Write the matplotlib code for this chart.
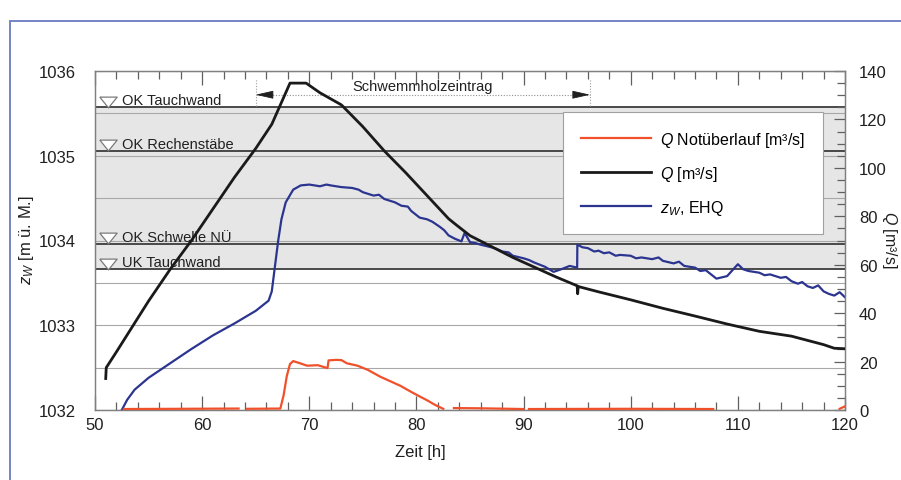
import matplotlib
matplotlib.use("Agg")
import numpy as np
import matplotlib.pyplot as plt
from matplotlib.ticker import MultipleLocator
from matplotlib.transforms import offset_copy
from matplotlib.lines import Line2D
from matplotlib.patches import Rectangle

plt.rcParams['font.family'] = ['Liberation Sans', 'DejaVu Sans']
plt.rcParams['mathtext.fontset'] = 'custom'
plt.rcParams['mathtext.rm'] = 'Liberation Sans'
plt.rcParams['mathtext.it'] = 'Liberation Sans:italic'

# Abfluss Q [m3/s] (rechte Achse)
zeit_q = [51.0, 51.05, 52, 53, 55, 57, 59, 61, 63, 65, 66.5, 67.5, 68.2, 69.7,
          71, 73, 75, 77, 79, 81, 83, 83.7, 85, 87, 89, 91, 93, 95, 95.05, 95.1,
          97, 100, 103, 106, 109, 112, 115, 118, 119, 120]
q_werte = [13, 17.5, 24, 31, 45, 58, 70, 83, 96, 108, 118, 128, 135, 135,
           131, 126, 117, 107, 98, 88.5, 79, 76.5, 72, 67.5, 63, 59, 55, 51.3, 48, 51,
           48.8, 45.5, 42, 38.8, 35.5, 32.5, 30.5, 27, 25.5, 25.3]

# Wasserspiegel z_W [m ü. M.] (linke Achse)
zeit_zw = [52.5, 53.0, 53.7, 55, 57, 59, 61, 63, 65, 66.2, 66.5, 66.8, 67.1, 67.4,
           67.8, 68.5, 69.2, 70, 71, 71.6, 72, 73, 74, 74.6, 75, 76, 76.5, 77, 78,
           78.6, 79.2, 79.5, 80.3, 81, 81.5, 82.2, 82.6, 83, 83.6, 84.2, 84.5, 85,
           85.5, 86, 87, 87.5, 88, 88.6, 89, 90, 90.5, 91, 92, 92.8, 93.5, 94.3,
           95.0, 95.02, 95.5, 96, 96.6, 97, 97.5, 98, 98.6, 99, 100, 100.5, 101,
           102, 102.6, 103, 104, 104.5, 105, 106, 106.5, 107, 108, 109, 110, 110.5,
           111, 112, 112.5, 113, 114, 114.5, 115, 115.6, 116, 116.5, 117, 117.5,
           118, 118.5, 119, 119.5, 120]
zw_werte = [1032.0, 1032.12, 1032.24, 1032.38, 1032.55, 1032.72, 1032.88, 1033.02,
            1033.17, 1033.29, 1033.4, 1033.7, 1034.0, 1034.25, 1034.45, 1034.6,
            1034.65, 1034.66, 1034.64, 1034.66, 1034.65, 1034.63, 1034.62, 1034.60,
            1034.57, 1034.53, 1034.54, 1034.49, 1034.45, 1034.41, 1034.40, 1034.35,
            1034.27, 1034.25, 1034.22, 1034.16, 1034.12, 1034.06, 1034.02, 1033.99,
            1034.09, 1033.98, 1033.97, 1033.95, 1033.92, 1033.90, 1033.87, 1033.86,
            1033.82, 1033.79, 1033.77, 1033.74, 1033.69, 1033.63, 1033.66, 1033.70,
            1033.68, 1033.95, 1033.92, 1033.91, 1033.87, 1033.88, 1033.85, 1033.86,
            1033.82, 1033.83, 1033.82, 1033.79, 1033.80, 1033.78, 1033.80, 1033.76,
            1033.73, 1033.75, 1033.70, 1033.68, 1033.64, 1033.65, 1033.55, 1033.58,
            1033.72, 1033.66, 1033.64, 1033.62, 1033.59, 1033.60, 1033.56, 1033.57,
            1033.52, 1033.49, 1033.51, 1033.46, 1033.44, 1033.47, 1033.40, 1033.37,
            1033.35, 1033.39, 1033.33]

# Q Notüberlauf [m3/s] (rechte Achse), Lücken = keine Messung
zeit_nue = [52.7, 58, 63.4, np.nan, 64.2, 67.3, 67.6, 67.9, 68.2, 68.5, 69, 69.8,
            70.8, 71.7, 71.8, 72.5, 73, 73.5, 74.5, 75.5, 76.6, 77.5, 78.5, 79.5,
            80.3, 81, 81.7, 82.5, np.nan, 83.5, 86, 90, np.nan, 90.5, 100, 107.7,
            np.nan, 119.5, 120]
q_nue = [0.4, 0.5, 0.6, np.nan, 0.5, 0.6, 6, 14, 19, 20.2, 19.5, 18.3,
         18.5, 17.3, 20.5, 20.7, 20.6, 19.3, 18.3, 16.5, 13.8, 12, 10, 7.5,
         5.6, 4, 2.2, 0.5, np.nan, 0.8, 0.7, 0.4, np.nan, 0.4, 0.5, 0.4,
         np.nan, 0.5, 1.5]

# Bauwerkskoten
koten_namen = ["OK Tauchwand", "OK Rechenstäbe", "OK Schwelle NÜ", "UK Tauchwand"]
koten_werte = [1035.575, 1035.06, 1033.96, 1033.66]

# Zeitraum Schwemmholzeintrag [h]
schwemmholz_von = 65.0
schwemmholz_bis = 96.2

fig = plt.figure(figsize=(9.01, 4.81), dpi=100)
ax = fig.add_axes([95 / 901, 70 / 481, 750 / 901, 339 / 481])
ax2 = ax.twinx()

# blauer Rahmen um die Abbildung
fig.patches.append(Rectangle((10 / 901, -0.05), 1.0, (481 - 22) / 481 + 0.05,
                             transform=fig.transFigure, fill=False,
                             edgecolor='#6a7cc0', lw=1.3))

ax.set_xlim(50, 120)
ax.set_ylim(1032, 1036)
ax2.set_ylim(0, 140)

# grauer Bereich zwischen UK und OK Tauchwand
ax.axhspan(koten_werte[3], koten_werte[0], color='#e6e6e6', zorder=0, lw=0)

ax.set_yticks([1032, 1033, 1034, 1035, 1036])
ax.yaxis.set_minor_locator(MultipleLocator(0.5))
ax.grid(axis='y', which='both', color='#a8a8a8', lw=0.8, zorder=1)
ax.set_axisbelow(True)

ax.xaxis.set_major_locator(MultipleLocator(10))
ax.xaxis.set_minor_locator(MultipleLocator(2))
ax.tick_params(axis='x', which='both', direction='in', top=True, colors='#606060',
               labelcolor='#202020', labelsize=12, pad=5)
ax.tick_params(axis='x', which='major', length=10, width=0.9)
ax.tick_params(axis='x', which='minor', length=6, width=0.9)
ax.tick_params(axis='y', which='both', length=0, labelsize=12, pad=14,
               labelcolor='#202020')

ax2.yaxis.set_major_locator(MultipleLocator(20))
ax2.yaxis.set_minor_locator(MultipleLocator(5))
ax2.tick_params(axis='y', which='both', direction='in', colors='#606060',
                labelcolor='#202020', labelsize=12, pad=10)
ax2.tick_params(axis='y', which='major', length=8, width=0.9)
ax2.tick_params(axis='y', which='minor', length=6, width=0.9)

for s in list(ax.spines.values()) + list(ax2.spines.values()):
    s.set_color('#808080')
    s.set_linewidth(0.9)

# Koten mit Dreieck und Beschriftung
dreieck = [(-1.0, 0.62), (1.0, 0.62), (0.0, -0.62), (-1.0, 0.62)]
tri_trans = offset_copy(ax.transData, fig=fig, x=0, y=5.5, units='dots')
txt_trans = offset_copy(ax.transData, fig=fig, x=0, y=3, units='dots')
for name, kote in zip(koten_namen, koten_werte):
    ax.axhline(kote, color='#3c3c3c', lw=1.3, zorder=2)
    ax.plot([51.17], [kote], marker=dreieck, markersize=12.5, mfc='white',
            mec='#7a7a7a', mew=0.9, transform=tri_trans, zorder=3)
    ax.text(52.5, kote, name, fontsize=10.5, color='#202020', va='baseline',
            ha='left', transform=txt_trans, zorder=3)

# Messdaten
ax.plot(zeit_zw, zw_werte, color='#2b3590', lw=1.6, zorder=4)
ax2.plot(zeit_q, q_werte, color='#1a1a1a', lw=2.0, zorder=5)
ax2.plot(zeit_nue, q_nue, color='#f0502a', lw=1.6, zorder=5)

# Schwemmholzeintrag Markierung
y_pfeil = 1035.72
ax.plot([schwemmholz_von, schwemmholz_bis], [y_pfeil, y_pfeil], color='#909090',
        lw=0.8, ls=(0, (1, 1.5)), zorder=3)
for xv in (schwemmholz_von, schwemmholz_bis):
    ax.plot([xv, xv], [1035.59, 1035.91], color='#a0a0a0', lw=0.8,
            ls=(0, (1, 1.5)), zorder=3)
ax.annotate('', xy=(schwemmholz_von, y_pfeil), xytext=(schwemmholz_von + 1.6, y_pfeil),
            arrowprops=dict(arrowstyle='-|>,head_length=1.1,head_width=0.25',
                            color='#202020', lw=0.6, shrinkA=0, shrinkB=0))
ax.annotate('', xy=(schwemmholz_bis, y_pfeil), xytext=(schwemmholz_bis - 1.6, y_pfeil),
            arrowprops=dict(arrowstyle='-|>,head_length=1.1,head_width=0.25',
                            color='#202020', lw=0.6, shrinkA=0, shrinkB=0))
ax.text((schwemmholz_von + schwemmholz_bis) / 2, 1035.82, "Schwemmholzeintrag",
        fontsize=10.5, ha='center', va='center', color='#202020', zorder=3)

# Legende
handles = [Line2D([], [], color='#f0502a', lw=1.6),
           Line2D([], [], color='#1a1a1a', lw=2.0),
           Line2D([], [], color='#2b3590', lw=1.6)]
labels = ["$Q$ Notüberlauf [m³/s]", "$Q$ [m³/s]", "$z_W$, EHQ"]
leg = ax2.legend(handles, labels, loc='upper left',
                 bbox_to_anchor=(563 / 901, (481 - 113) / 481),
                 bbox_transform=fig.transFigure, borderaxespad=0,
                 fontsize=11.5, frameon=True, fancybox=False, framealpha=1,
                 edgecolor='#a0a0a0', handlelength=4.4, handletextpad=0.6,
                 labelspacing=0.95, borderpad=1.1)
leg.get_frame().set_linewidth(0.8)
leg.set_zorder(10)

# Achsenbeschriftungen
fig.text(420 / 901, (481 - 453) / 481, "Zeit [h]", fontsize=12, ha='center',
         va='center', color='#202020')
fig.text(27 / 901, (481 - 240) / 481, "$z_W$ [m ü. M.]", fontsize=12, ha='center',
         va='center', rotation=90, color='#202020')
fig.text(890 / 901, (481 - 240) / 481, "$Q$ [m³/s]", fontsize=11.5, ha='center',
         va='center', rotation=270, color='#202020')

fig.savefig("out.png", dpi=100)
